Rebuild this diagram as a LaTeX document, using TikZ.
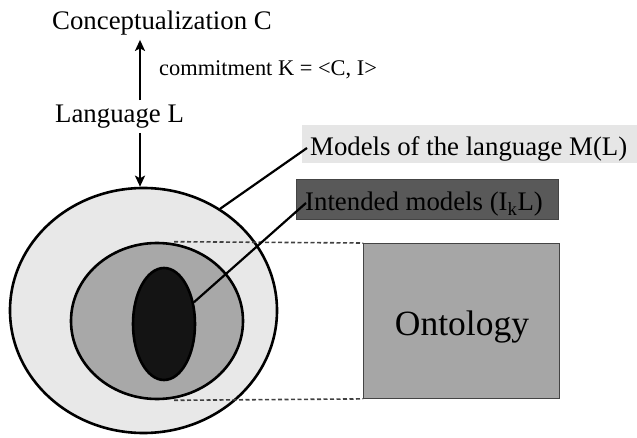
\documentclass[tikz,border=0pt]{standalone}
\usepackage{fontspec}
\setmainfont{Liberation Serif}
\usetikzlibrary{arrows.meta,shapes.geometric}

\definecolor{ringlight}{HTML}{E8E8E8}
\definecolor{ringmid}{HTML}{A8A8A8}
\definecolor{corefill}{HTML}{141414}
\definecolor{modelsfill}{HTML}{E6E6E6}
\definecolor{intendfill}{HTML}{595959}
\definecolor{ontofill}{HTML}{A6A6A6}
\definecolor{framegray}{HTML}{444444}
\definecolor{dashgray}{HTML}{404040}

\tikzset{
  bigtext/.style={font=\fontsize{26.8}{30}\selectfont, inner sep=0pt},
  smalltext/.style={font=\fontsize{22.4}{26}\selectfont, inner sep=0pt},
  region/.style={ellipse, draw=black, line width=2.6pt, inner sep=0pt},
  arr/.style={line width=2.2pt, -{Stealth[length=11pt,width=10pt,inset=2.5pt]}},
  link/.style={line width=2.2pt},
  guide/.style={dashgray, line width=1.6pt, dash pattern=on 4pt off 2.5pt},
}

\begin{document}
\begin{tikzpicture}[x=1pt, y=-1pt]
\useasboundingbox (0,0) rectangle (637,438);

% top labels
\node[bigtext, anchor=base west] (concept) at (52,30) {Conceptualization C};
\node[smalltext, anchor=base west] (commit) at (159,76) {commitment K = <C, I>};
\node[bigtext, anchor=base west] (lang) at (55,123) {Language L};

% nested model regions
\node[region, fill=ringlight, minimum width=267pt, minimum height=245pt] (outer) at (143.5,310.5) {};
\node[region, fill=ringmid, minimum width=172pt, minimum height=156pt] (middle) at (157,321) {};
\node[region, fill=corefill, minimum width=62pt, minimum height=112pt] (core) at (164,324) {};

% arrows between language and conceptualization / models
\coordinate (ax) at (140,0);
\draw[arr, shorten <=5pt, shorten >=4pt] (ax |- lang.north) -- (ax |- concept.south);
\draw[arr, shorten <=4pt] (ax |- lang.south) -- (ax |- outer.north);

% label boxes
\node[fill=modelsfill, anchor=north west, minimum width=335pt, minimum height=38pt, inner sep=0pt] (modelsbox) at (302,125) {};
\node[bigtext, anchor=base west] (models) at (310,156) {Models of the language M(L)};
\node[fill=intendfill, draw=framegray, line width=0.6pt, anchor=north west, minimum width=262pt, minimum height=40pt, inner sep=0pt] (intendbox) at (296,179) {};
\node[bigtext, anchor=base west] (intend) at (305,211) {Intended models (I\textsubscript{k}L)};

% ontology box
\node[fill=ontofill, draw=framegray, line width=0.9pt, anchor=north west, minimum width=196pt, minimum height=155pt, inner sep=0pt] (onto) at (363,243) {};
\node[font=\fontsize{35.5}{40}\selectfont, inner sep=0pt, anchor=base] (ontolabel) at (462,335) {Ontology};

% dashed guides from the intended-models region to the ontology
\coordinate (gx) at (174,0);
\draw[guide] (gx |- middle.north) -- (onto.north west);
\draw[guide] (gx |- middle.south) -- (onto.south west);

% leader lines
\coordinate (modelsend) at (307,148);
\coordinate (intendend) at (306,203);
\draw[link] (outer.53) -- (modelsend);
\draw[link] (core.36) -- (intendend);
\end{tikzpicture}
\end{document}
